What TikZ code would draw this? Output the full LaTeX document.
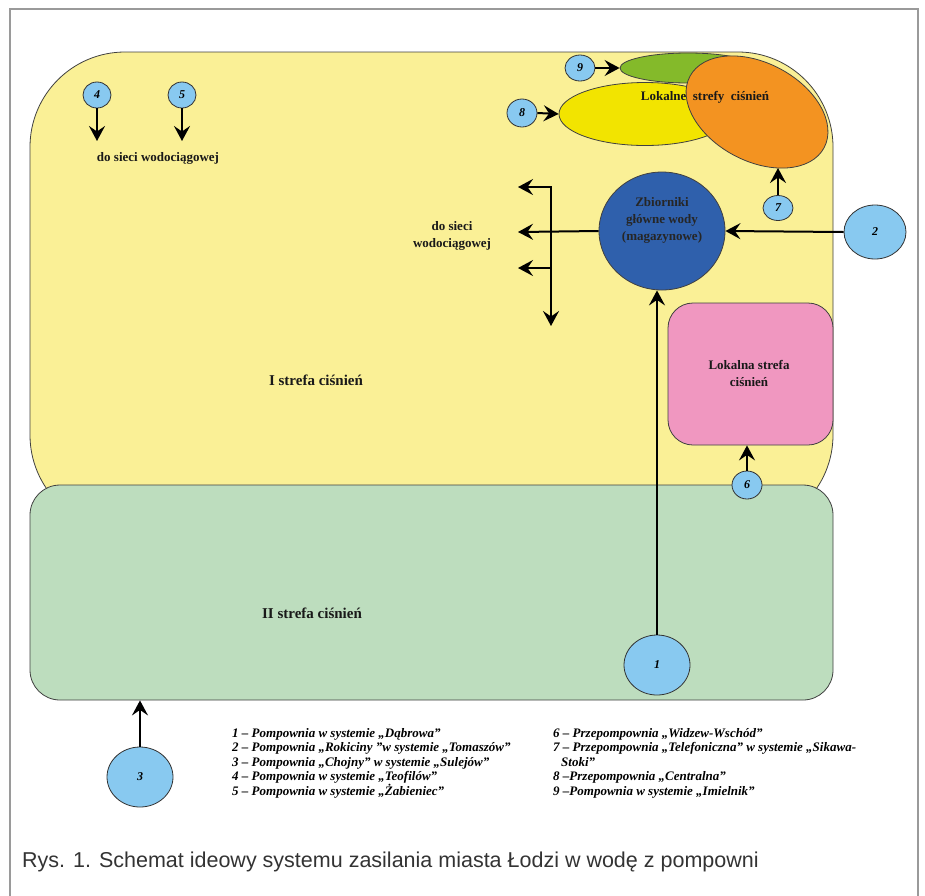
\documentclass[tikz,border=0pt]{standalone}
\usepackage{fontspec}
\setmainfont{Liberation Serif}
\setsansfont{Liberation Sans}
\usetikzlibrary{arrows.meta,shapes.geometric}
\definecolor{zyellow}{HTML}{FAF096}
\definecolor{zgreen}{HTML}{BDDDBE}
\definecolor{zpink}{HTML}{F097C0}
\definecolor{tankblue}{HTML}{2F60AC}
\definecolor{eorange}{HTML}{F39321}
\definecolor{eyellow}{HTML}{F2E400}
\definecolor{egreen}{HTML}{84BA2A}
\definecolor{pumpblue}{HTML}{88C9F0}
\definecolor{framegray}{HTML}{9A9A9A}
\definecolor{captext}{HTML}{333333}
\tikzset{
  zone/.style={draw=black!75, line width=0.8pt, inner sep=0pt},
  pump/.style={ellipse, draw=black!80, fill=pumpblue, line width=0.8pt, inner sep=0pt,
    font=\bfseries\itshape\fontsize{12}{12}\selectfont},
  tip/.tip={Stealth[length=15pt,width=16pt,inset=5.5pt]},
  flow/.style={line width=2pt, -tip},
  lbl/.style={font=\bfseries\fontsize{13}{17}\selectfont, align=center, text=black!90},
  zlbl/.style={font=\bfseries\fontsize{15}{17}\selectfont, text=black!90},
  legend/.style={font=\bfseries\itshape\fontsize{13}{14.5}\selectfont, align=left, anchor=north west, inner sep=0pt}
}
\begin{document}
\begin{tikzpicture}[x=1pt,y=-1pt]
\useasboundingbox (0,0) rectangle (925,895);
\draw[framegray, line width=1.2pt] (10,9) rectangle (918,910);
% zones
\node[zone, fill=zyellow, minimum width=803pt, minimum height=478pt, rounded corners=95pt] (zone1) at (431.5,291) {};
\node[zone, fill=zgreen, minimum width=803pt, minimum height=215pt, rounded corners=30pt] (zone2) at (431.5,592.5) {};
\node[zone, fill=zpink, minimum width=165pt, minimum height=142pt, rounded corners=25pt] (pink) at (750.5,374) {};
% local zones (ellipses)
\node[zone, ellipse, fill=egreen, minimum width=136pt, minimum height=30pt] (lg) at (688,68) {};
\node[zone, ellipse, fill=eyellow, minimum width=172pt, minimum height=63pt] (ly) at (645,114) {};
\node[zone, ellipse, fill=eorange, minimum width=152pt, minimum height=98pt, rotate=-28] (lo) at (757,112) {};
\node[lbl] (loctxt) at (705,97) {Lokalne\ \ strefy\ \ ciśnień};
% tank
\node[zone, ellipse, fill=tankblue, minimum width=126pt, minimum height=118pt] (tank) at (662,231) {};
\node[lbl, text=black!85] (tanktxt) at (662,220) {Zbiorniki\\główne wody\\(magazynowe)};
% texts
\node[lbl] (pinktxt) at (749,373) {Lokalna strefa\\ciśnień};
\node[zlbl] (z1txt) at (316,380) {I strefa ciśnień};
\node[zlbl] (z2txt) at (312,613) {II strefa ciśnień};
\node[lbl] (net1) at (158,158) {do sieci wodociągowej};
\node[lbl] (net2) at (452,236) {do sieci\\wodociągowej};
% pumps
\node[pump, minimum width=66pt, minimum height=60pt] (p1) at (657,665) {1};
\node[pump, minimum width=62pt, minimum height=54pt] (p2) at (875,232) {2};
\node[pump, minimum width=66pt, minimum height=60pt] (p3) at (140,777) {3};
\node[pump, minimum width=28pt, minimum height=26pt] (p4) at (97,95) {4};
\node[pump, minimum width=28pt, minimum height=26pt] (p5) at (182,95) {5};
\node[pump, minimum width=30pt, minimum height=28pt] (p6) at (747,485) {6};
\node[pump, minimum width=30pt, minimum height=25pt] (p7) at (778,208) {7};
\node[pump, minimum width=30pt, minimum height=28pt] (p8) at (522,113) {8};
\node[pump, minimum width=30pt, minimum height=26pt] (p9) at (580,68) {9};
% free ends
\coordinate (c4) at (97,141);
\coordinate (c5) at (182,141);
\coordinate (o7) at (778,168);
\coordinate (j1) at (551,187);
\coordinate (j3) at (551,268);
\coordinate (jb) at (551,326);
\coordinate (d1) at (518,187);
\coordinate (d2) at (518,232);
\coordinate (d3) at (518,268);
% connectors
\draw[flow] (p1.north) -- (p1.north |- tank.south);
\draw[flow] (p2.west) -- (tank.east);
\draw[flow] (p3.north) -- (p3.north |- zone2.south);
\draw[flow] (p4.south) -- (c4);
\draw[flow] (p5.south) -- (c5);
\draw[flow] (p6.north) -- (p6.north |- pink.south);
\draw[flow] (p7.north) -- (o7);
\draw[flow] (p8.east) -- (ly.west);
\draw[flow] (p9.east) -- (lg.west);
\draw[line width=2pt, tip-tip] (d1) -- (j1) -- (jb);
\draw[flow] (tank.west) -- (d2);
\draw[flow] (j3) -- (d3);
% legend
\node[legend] (leg1) at (232,728) {1 – Pompownia w systemie „Dąbrowa”\\
2 – Pompownia „Rokiciny ”w systemie „Tomaszów”\\
3 – Pompownia „Chojny” w systemie „Sulejów”\\
4 – Pompownia w systemie „Teofilów”\\
5 – Pompownia w systemie „Żabieniec”};
\node[legend] (leg2) at (553,728) {6 – Przepompownia „Widzew-Wschód”\\
7 – Przepompownia „Telefoniczna” w systemie „Sikawa-\\
\hspace*{8pt}Stoki”\\
8 –Przepompownia „Centralna”\\
9 –Pompownia w systemie „Imielnik”};
% caption
\node[anchor=west, inner sep=0pt, text=captext, font=\sffamily\fontsize{21.5}{24}\selectfont] (caption) at (22,862) {Rys. 1. Schemat ideowy systemu zasilania miasta Łodzi w wodę z pompowni};
\end{tikzpicture}
\end{document}
